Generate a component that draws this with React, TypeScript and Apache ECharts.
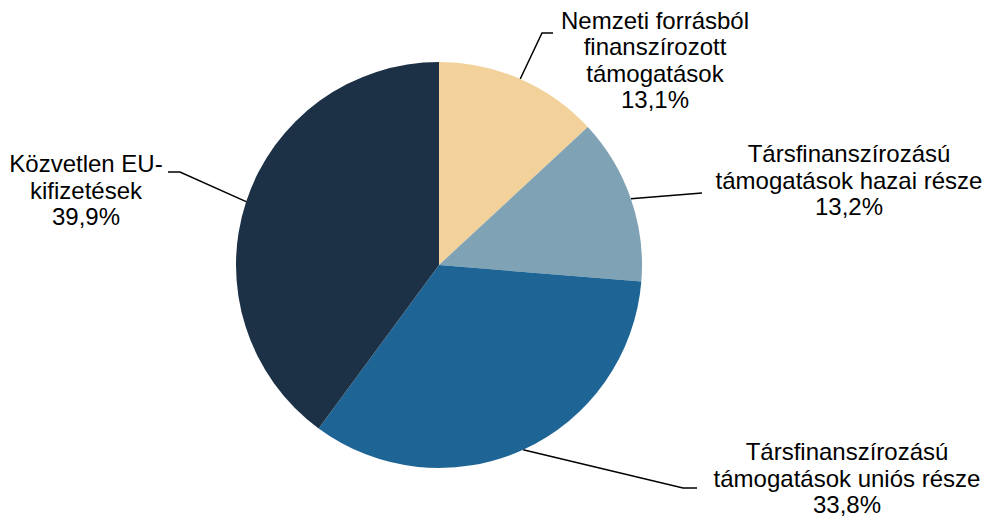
import React, { useEffect, useRef } from "react";
import * as echarts from "echarts";

const categories = [
  "Nemzeti forrásból\nfinanszírozott\ntámogatások",
  "Társfinanszírozású\ntámogatások hazai része",
  "Társfinanszírozású\ntámogatások uniós része",
  "Közvetlen EU-\nkifizetések",
];
const values = [13.1, 13.2, 33.8, 39.9];
const colors = ["#F2D29A", "#7FA2B4", "#1E6595", "#1C3145"];

// label layout: label centre and leader-line elbow points (pixels)
const labelCenters = [
  [655, 60],
  [849, 180],
  [847, 478],
  [86, 190],
];
const leaderPoints = [
  [[542, 33], [553, 33]],
  [[702, 193]],
  [[683, 488], [697, 488]],
  [[180, 172], [168, 172]],
];

export default function App() {
  const ref = useRef<HTMLDivElement>(null);
  useEffect(() => {
    document.body.style.margin = "0";
    const chart = echarts.init(ref.current!, null, { renderer: "svg" });
    chart.setOption({
      animation: false,
      backgroundColor: "#ffffff",
      series: [
        {
          type: "pie",
          center: [439, 265],
          radius: 203,
          startAngle: 90,
          clockwise: true,
          avoidLabelOverlap: false,
          data: categories.map((name, i) => ({
            name,
            value: values[i],
            itemStyle: { color: colors[i] },
          })),
          label: {
            show: true,
            position: "outside",
            overflow: "none",
            color: "#000000",
            fontFamily: "Liberation Sans, Arial, sans-serif",
            fontSize: 24,
            lineHeight: 26.5,
            align: "center",
            formatter: (p: any) =>
              p.name + "\n" + p.value.toFixed(1).replace(".", ",") + "%",
          },
          labelLine: {
            show: true,
            lineStyle: { color: "#000000", width: 1.5 },
          },
          labelLayout: (params: any) => {
            const i = params.dataIndex;
            const start =
              params.labelLinePoints && params.labelLinePoints[0]
                ? params.labelLinePoints[0]
                : [439, 265];
            return {
              x: labelCenters[i][0],
              y: labelCenters[i][1],
              align: "center",
              verticalAlign: "middle",
              labelLinePoints: [start, ...leaderPoints[i]],
            };
          },
          emphasis: { disabled: true },
        },
      ],
    });
    return () => chart.dispose();
  }, []);
  return <div ref={ref} style={{ width: 989, height: 518 }} />;
}
